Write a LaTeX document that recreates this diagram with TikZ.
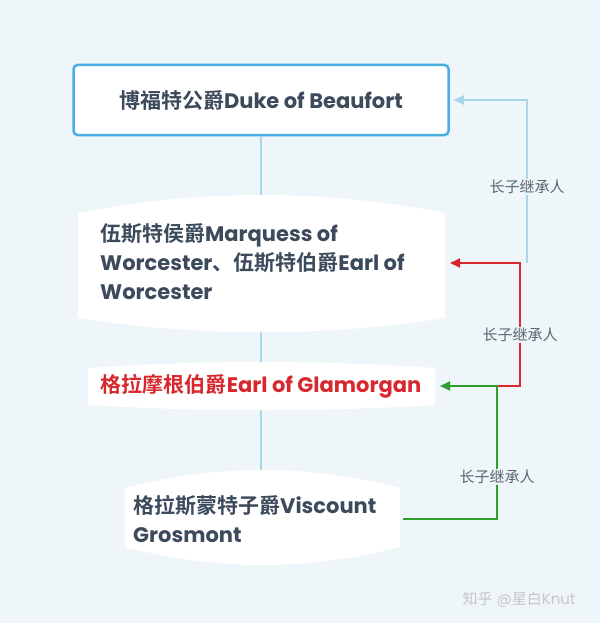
\documentclass[tikz,border=0pt]{standalone}
\usepackage{fontspec}
\setmainfont{Poppins}
\newfontfamily\cjk{Noto Sans CJK SC}[BoldFont={Noto Sans CJK SC Bold}]
\usepackage{xcolor}
\usetikzlibrary{arrows.meta,positioning}
\definecolor{bgblue}{HTML}{EEF6FA}
\definecolor{boxblue}{HTML}{4AAEE2}
\definecolor{trunkblue}{HTML}{A9D5EA}
\definecolor{inkgray}{HTML}{3D4A5C}
\definecolor{heirred}{HTML}{D8282E}
\definecolor{heirgreen}{HTML}{2E9E2E}
\definecolor{labelgray}{HTML}{5C6470}
\newcommand{\zh}[1]{{\cjk #1}}

\begin{document}
\begin{tikzpicture}[x=1pt, y=-1pt,
    title/.style={font=\fontsize{21}{29}\selectfont\bfseries, text=inkgray, align=left, inner sep=0pt},
    heir/.style={line width=2pt, -{Triangle[length=10pt,width=9pt]}},
    heirlabel/.style={font=\fontsize{15}{18}\selectfont\cjk, text=labelgray, fill=bgblue, inner sep=1.5pt}]

    \fill[bgblue] (0,0) rectangle (600,623);
    \useasboundingbox (0,0) rectangle (600,623);

    % trunk
    \node[title, draw=boxblue, line width=2.5pt, fill=white, rounded corners=4pt,
          minimum width=375pt, minimum height=70pt, align=center] (duke) at (261,100) {\zh{博福特公爵}Duke of Beaufort};
    \coordinate (trunkend) at (261,478);
    \draw[trunkblue, line width=2pt] (duke.south) -- (trunkend);

    % white cards
    \fill[white] (78,213) .. controls (200,189) and (323,189) .. (445,213) -- (445,318)
        .. controls (323,337) and (200,337) .. (78,318) -- cycle;
    \fill[white] (88,368) .. controls (204,360) and (319,360) .. (435,368) -- (435,405)
        .. controls (319,412) and (204,412) .. (88,405) -- cycle;
    \fill[white] (125,488) .. controls (217,464) and (308,464) .. (400,488) -- (400,547)
        .. controls (308,571) and (217,571) .. (125,547) -- cycle;

    \node[title, anchor=west] (marquess) at (100,262) {\zh{伍斯特侯爵}Marquess of\\Worcester\zh{、伍斯特伯爵}Earl of\\Worcester};
    \node[title, text=heirred] (glamorgan) at (261,386) {\zh{格拉摩根伯爵}Earl of Glamorgan};
    \node[title, anchor=west] (grosmont) at (133,519) {\zh{格拉斯蒙特子爵}Viscount\\Grosmont};

    % heir arrows
    \coordinate (marqtip) at (450,263);
    \coordinate (glamtip) at (440,386);
    \coordinate (grosend) at (403,519);
    \coordinate (jblue) at (527,263);
    \coordinate (jred) at (497,386);
    \draw[heir, trunkblue] (jblue) |- ([xshift=4pt]duke.east);
    \draw[heir, heirred] (jred) -- ++(23,0) |- (marqtip);
    \draw[heir, heirgreen] (grosend) -| (jred) -- (glamtip);

    \node[heirlabel] (heirone) at (527,187) {长子继承人};
    \node[heirlabel] (heirtwo) at (520,335) {长子继承人};
    \node[heirlabel] (heirthree) at (497,477) {长子继承人};

    \node[font=\fontsize{15}{18}\selectfont, text=black!22] (mark) at (519,600) {\zh{知乎} @\zh{星白}Knut};
\end{tikzpicture}
\end{document}
